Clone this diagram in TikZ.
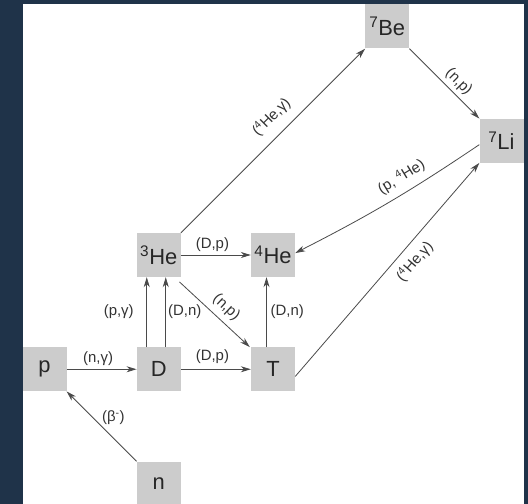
\documentclass[tikz,border=0pt]{standalone}
\usepackage{fontspec}
\setmainfont{Liberation Sans}
\usetikzlibrary{arrows.meta,calc}
\definecolor{bgdark}{HTML}{1F3349}
\definecolor{boxgray}{HTML}{CCCCCC}
\definecolor{linegray}{HTML}{4A4A4A}
\definecolor{txtgray}{HTML}{333333}
\begin{document}
\begin{tikzpicture}[x=1bp,y=-1bp,
  nuc/.style={fill=boxgray, minimum width=44bp, minimum height=44bp, inner sep=0pt,
    font=\fontsize{22}{26}\selectfont, text=black!85},
  rx/.style={draw=linegray, line width=0.8bp, -{Stealth[length=10bp,width=6bp,inset=3bp]}},
  lab/.style={font=\fontsize{15}{18}\selectfont, text=txtgray, inner sep=0pt}]
\fill[bgdark] (0,0) rectangle (528,504);
\fill[white] (22.5,4.5) rectangle (523.5,504);
\useasboundingbox (0,0) rectangle (528,504);
\begin{scope}
\clip (0,0) rectangle (528,504);
\node[nuc] (Be7) at (387.25,26.5) {\textsuperscript{7}Be};
\node[nuc] (Li7) at (501.5,140.75) {\textsuperscript{7}Li};
\node[nuc] (He3) at (158.75,255) {\textsuperscript{3}He};
\node[nuc] (He4) at (273,255) {\textsuperscript{4}He};
\node[nuc] (p) at (44.5,369.25) {p};
\node[nuc] (D) at (158.75,369.25) {D};
\node[nuc] (T) at (273,369.25) {T};
\node[nuc] (n) at (158.75,483.5) {n};
\end{scope}
% horizontal
\draw[rx] (p) -- node[lab,pos=0.45,yshift=11bp]{(n,γ)} (D);
\draw[rx] (D) -- node[lab,pos=0.45,yshift=12.5bp]{(D,p)} (T);
\draw[rx] (He3) -- node[lab,pos=0.45,yshift=10.5bp]{(D,p)} (He4);
% vertical
\draw[rx] ([xshift=-12bp]D.north) -- node[lab,xshift=-28bp]{(p,γ)} ([xshift=-12bp]He3.south);
\draw[rx] ([xshift=7bp]D.north) -- node[lab,xshift=19bp]{(D,n)} ([xshift=7bp]He3.south);
\draw[rx] ([xshift=-6.5bp]T.north) -- node[lab,xshift=20.8bp]{(D,n)} ([xshift=-6.5bp]He4.south);
% diagonals
\draw[rx] ($(He3.south east)+(-1.5,4.7)$) -- node[lab,sloped,pos=0.54,yshift=13bp]{(n,p)} ($(T.north west)+(-1,0)$);
\draw[rx] (He3) -- node[lab,sloped,pos=0.56,yshift=18bp]{(\textsuperscript{4}He,γ)} (Be7);
\draw[rx] (Be7) -- node[lab,sloped,pos=0.59,yshift=11.3bp]{(n,p)} (Li7);
\draw[rx] (Li7.190) to[bend left=3.5] node[lab,sloped,pos=0.38,yshift=15.5bp]{(p, \textsuperscript{4}He)} (He4.5);
\draw[rx] (T.-18) -- node[lab,sloped,pos=0.585,yshift=-15.5bp]{(\textsuperscript{4}He,γ)} (Li7.south west);
\draw[rx] (n) -- node[lab,pos=0.475,xshift=10bp,yshift=10bp]{(β\textsuperscript{-})} (p);
\end{tikzpicture}
\end{document}
